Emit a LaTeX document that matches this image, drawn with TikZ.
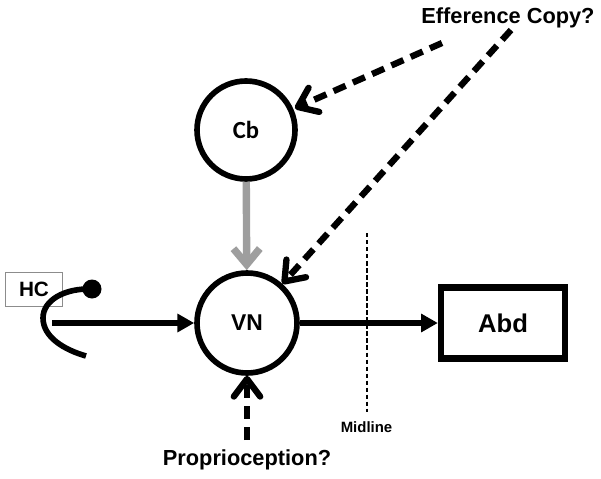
\documentclass[tikz,border=0pt]{standalone}
\usepackage{fontspec}
\setmainfont{Liberation Sans}
\newfontfamily\cbfont{Carlito}
\usetikzlibrary{arrows.meta, positioning}
\definecolor{mainBlack}{gray}{0.0}
\definecolor{subGray}{gray}{0.62}
\definecolor{boxGray}{gray}{0.55}
\begin{document}
\begin{tikzpicture}[>={Triangle[length=9.5pt,width=10pt]},
    cell/.style={circle, draw=mainBlack, line width=3.2pt, minimum size=2cm, inner sep=0pt, font=\bfseries\fontsize{13}{15}\selectfont},
    solidarrow/.style={->, line width=3pt, mainBlack},
    guessarrow/.style={-{Straight Barb[length=10pt,width=15pt,round]}, line width=3.6pt, dash pattern=on 7.5pt off 4.5pt, mainBlack},
    label/.style={font=\bfseries\fontsize{12.4}{14}\selectfont}]
    \useasboundingbox (0,0) rectangle (12.02,-9.56);

    \node[cell, minimum size=1.96cm, font=\cbfont\bfseries\fontsize{14}{16}\selectfont] (Cb) at (4.92,-2.6) {Cb};
    \node[cell, minimum size=2cm] (VN) at (4.94,-6.46) {VN};
    \node[draw=mainBlack, line width=3.6pt, minimum width=2.48cm, minimum height=1.42cm, font=\bfseries\fontsize{14.6}{17}\selectfont] (Abd) at (10.06,-6.46) {Abd};
    \node[draw=boxGray, line width=0.6pt, minimum width=1.14cm, minimum height=0.68cm, font=\bfseries\fontsize{11.8}{14}\selectfont] (HC) at (0.68,-5.79) {HC};

    \coordinate (tip) at (1.84,-5.78);
    \coordinate (hcout) at (1.04,-6.46);
    \draw[line width=3.2pt, mainBlack] (tip) .. controls (1.3,-5.76) and (0.86,-6.0) .. (0.86,-6.36)
        .. controls (0.86,-6.75) and (1.3,-7.0) .. (1.72,-7.12);
    \fill[mainBlack] (tip) circle (0.19);

    \draw[solidarrow] (hcout) -- (VN);
    \draw[solidarrow] (VN) -- (Abd);
    \draw[-{Straight Barb[length=9pt,width=15pt]}, line width=4.2pt, subGray] (Cb) -- (VN);

    \coordinate (midtop) at (7.34,-4.66);
    \coordinate (midbot) at (7.34,-8.24);
    \draw[line width=0.8pt, dash pattern=on 2.5pt off 1.5pt] (midtop) -- (midbot);
    \node[font=\bfseries\fontsize{8.5}{10}\selectfont] (mid) at (7.33,-8.54) {Midline};

    \node[label] (eff) at (10.16,-0.36) {Efference Copy?};
    \node[label] (prop) at (4.94,-9.2) {Proprioception?};
    \coordinate (effa) at (8.84,-0.86);
    \coordinate (effb) at (10.22,-0.6);
    \coordinate (propa) at (4.94,-8.8);
    \draw[guessarrow, shorten >=1pt] (effa) -- (Cb);
    \draw[guessarrow] (effb) -- (VN);
    \draw[guessarrow] (propa) -- (VN);
\end{tikzpicture}
\end{document}
